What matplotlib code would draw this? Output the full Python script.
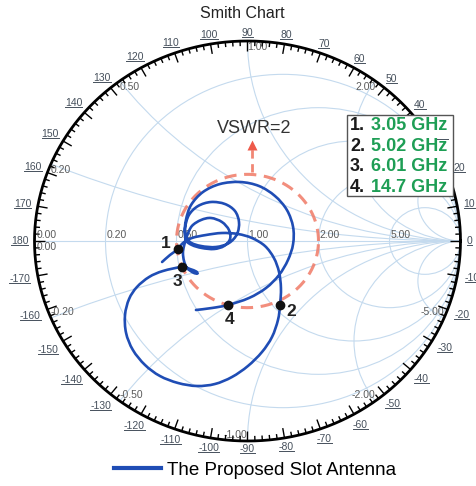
import numpy as np
import matplotlib
matplotlib.use("Agg")
import matplotlib.pyplot as plt
from matplotlib.patches import Circle, Rectangle, PathPatch
from matplotlib.path import Path
from matplotlib.collections import LineCollection
from matplotlib.lines import Line2D

plt.rcParams['font.family'] = ['Liberation Sans', 'DejaVu Sans']

# reflection coefficient of the antenna, in frequency order
gamma_re = [-0.401, -0.364, -0.326, -0.303, -0.261, -0.195, -0.120, -0.045, 0.021, 0.082,
            0.124, 0.148, 0.157, 0.153, 0.143, 0.115, 0.068, 0.002, -0.073, -0.153,
            -0.237, -0.326, -0.411, -0.481, -0.538, -0.570, -0.575, -0.556, -0.519, -0.462,
            -0.397, -0.308, -0.270, -0.240, -0.236, -0.255, -0.284, -0.298, -0.303, -0.298,
            -0.284, -0.261, -0.218, -0.171, -0.120, -0.087, -0.082, -0.110, -0.157, -0.214,
            -0.261, -0.289, -0.293, -0.275, -0.232, -0.171, -0.106, -0.059, -0.040, -0.049,
            -0.087, -0.148, -0.218, -0.270, -0.293, -0.289, -0.265, -0.209, -0.129, -0.035,
            0.054, 0.129, 0.185, 0.214, 0.214, 0.190, 0.148, 0.087, 0.007, -0.092,
            -0.167, -0.242]
gamma_im = [-0.105, -0.070, -0.040, -0.010, 0.015, 0.030, 0.040, 0.035, 0.015, -0.025,
            -0.085, -0.155, -0.235, -0.320, -0.395, -0.480, -0.555, -0.625, -0.680, -0.715,
            -0.725, -0.710, -0.675, -0.620, -0.545, -0.460, -0.370, -0.290, -0.230, -0.180,
            -0.150, -0.130, -0.140, -0.153, -0.163, -0.158, -0.135, -0.100, -0.060, -0.025,
            0.025, 0.075, 0.105, 0.115, 0.095, 0.055, 0.010, -0.025, -0.040, -0.035,
            -0.020, 0.005, 0.065, 0.130, 0.175, 0.195, 0.185, 0.150, 0.095, 0.035,
            -0.010, -0.030, -0.025, -0.005, 0.040, 0.105, 0.180, 0.245, 0.285, 0.295,
            0.275, 0.225, 0.155, 0.070, -0.015, -0.095, -0.170, -0.235, -0.285, -0.320,
            -0.335, -0.345]

marker_names = ['1', '2', '3', '4']
marker_freqs = ['3.05 GHz', '5.02 GHz', '6.01 GHz', '14.7 GHz']
marker_re = [-0.326, 0.153, -0.308, -0.092]
marker_im = [-0.040, -0.320, -0.130, -0.320]

grid_r = [0.2, 0.5, 1.0, 2.0, 5.0]
grid_x = [0.2, 0.5, 1.0, 2.0, 5.0]
vswr = 2

# pixel geometry of the chart (picture is slightly wider than tall)
W, H = 477, 486
CX, CY, RX, RY = 247.5, 241.0, 213.0, 200.0


def px(x, y):
    return (x - CX) / RX, (CY - y) / RY


def smooth_path(xs, ys):
    # Catmull-Rom through the points, drawn as cubic Bezier segments
    p = np.column_stack([xs, ys])
    ext = np.vstack([p[0], p, p[-1]])
    verts = [p[0]]
    codes = [Path.MOVETO]
    for i in range(1, len(ext) - 2):
        c1 = ext[i] + (ext[i + 1] - ext[i - 1]) / 6
        c2 = ext[i + 1] - (ext[i + 2] - ext[i]) / 6
        verts += [c1, c2, ext[i + 1]]
        codes += [Path.CURVE4] * 3
    return Path(verts, codes)


fig = plt.figure(figsize=(W / 100, H / 100), dpi=100)
ax = fig.add_axes([0, 0, 1, 1])
ax.set_xlim(-CX / RX, (W - CX) / RX)
ax.set_ylim((CY - H) / RY, CY / RY)
ax.set_aspect('auto')
ax.axis('off')

gridc = '#c4daee'
outer = Circle((0, 0), 1, transform=ax.transData, facecolor='none', edgecolor='none')
ax.add_patch(outer)
for r in grid_r:
    c = Circle((r / (1 + r), 0), 1 / (1 + r), fill=False, ec=gridc, lw=0.8, zorder=1)
    ax.add_patch(c)
    c.set_clip_path(outer)
for x in grid_x:
    for s in (1, -1):
        c = Circle((1, s / x), 1 / x, fill=False, ec=gridc, lw=0.8, zorder=1)
        ax.add_patch(c)
        c.set_clip_path(outer)
ax.plot([-1, 1], [0, 0], color=gridc, lw=0.8, zorder=1)

# outer circle and angle ticks
t = np.linspace(0, 2 * np.pi, 721)
ax.plot(np.cos(t), np.sin(t), color='black', lw=2.0, zorder=3)
segs = []
for d in range(0, 360, 2):
    a = np.radians(d)
    L = 10 if d % 10 == 0 else 5
    segs.append([(np.cos(a), np.sin(a)),
                 (np.cos(a) - L / RX * np.cos(a), np.sin(a) - L / RY * np.sin(a))])
ax.add_collection(LineCollection(segs, colors='black', lw=1.0, zorder=3))

angle_texts = []
for d in range(-170, 181, 10):
    a = np.radians(d)
    lab = str(d)
    hw = 3.0 * len(lab)
    off = 6 + hw * abs(np.cos(a)) + 2 * abs(np.sin(a))
    xx = np.cos(a) * (1 + off / RX)
    yy = np.sin(a) * (1 + off / RY)
    angle_texts.append(ax.text(xx, yy, lab, ha='center', va='center', fontsize=7.5,
                               color='#46505c', zorder=4))

labc = '#5a5a5a'
# resistance labels on the real axis
ax.text(-1 + 2 / RX, 1 / RY, '0.00', ha='left', va='bottom', fontsize=7.5, color=labc, zorder=4)
ax.text(-1 + 2 / RX, -1 / RY, '0.00', ha='left', va='top', fontsize=7.5, color=labc, zorder=4)
for r in grid_r:
    ax.text((r - 1) / (r + 1) + 1 / RX, 1 / RY, '%.2f' % r, ha='left', va='bottom',
            fontsize=7.5, color=labc, zorder=2)
# reactance labels at the rim
for x in grid_x:
    for s in (1, -1):
        g = (1j * s * x - 1) / (1j * s * x + 1)
        if s > 0:
            ha = 'left' if g.real <= 0.01 else 'right'
            va = 'top'
            dy = -1 / RY
        else:
            ha = 'left' if g.real < -0.01 else 'right'
            va = 'bottom'
            dy = 1 / RY
        ax.text(g.real, g.imag + dy, ('%.2f' if s > 0 else '-%.2f') % x, ha=ha, va=va,
                fontsize=7.5, color=labc, zorder=2)

# VSWR circle
rv = (vswr - 1) / (vswr + 1)
ax.plot(rv * np.cos(t), rv * np.sin(t), color='#f07a66', lw=2.2, ls=(0, (4, 2.5)),
        alpha=0.85, zorder=2)
x0, y0 = px(252, 172)
x1, y1 = px(252, 148)
ax.plot([x0, x1], [y0, y1], color='#f07a66', lw=2.0, ls=(0, (3, 2)), alpha=0.9, zorder=2)
ax.plot([x1], [y1 + 3 / RY], marker='^', ms=7, color='#ee5a4a', mec='none', zorder=2)
vx, vy = px(254, 128)
ax.text(vx, vy, 'VSWR=2', ha='center', va='center', fontsize=13, color='#333333', zorder=4)

# antenna curve
curve_color = '#1f4db5'
ax.add_patch(PathPatch(smooth_path(gamma_re, gamma_im), facecolor='none',
                       edgecolor=curve_color, lw=1.9, zorder=5, capstyle='round'))
line = Line2D([], [], color=curve_color, lw=3, label='The Proposed Slot Antenna')
ax.plot(marker_re, marker_im, 'o', color='#111111', ms=6, zorder=6)
lab_off = [(-12, 6), (11, -7), (-4, -15), (2, -15)]
for n, mx, my, (ox, oy) in zip(marker_names, marker_re, marker_im, lab_off):
    ax.text(mx + ox / RX, my + oy / RY, n, ha='center', va='center', fontsize=12.5,
            fontweight='bold', color='#222222', zorder=6)

# marker frequency box
bx0, by0 = px(347, 196)
bx1, by1 = px(453, 115)
ax.add_patch(Rectangle((bx0, by0), bx1 - bx0, by1 - by0, facecolor='white',
                       edgecolor='#555555', lw=1.0, zorder=7))
for i, (n, f) in enumerate(zip(marker_names, marker_freqs)):
    tx, ty = px(350, 125.5 + i * 20.6)
    ax.text(tx, ty, n + '.', ha='left', va='center', fontsize=13, fontweight='bold',
            color='#1a1a1a', zorder=8)
    tx2, _ = px(371, 0)
    ax.text(tx2, ty, f, ha='left', va='center', fontsize=13, fontweight='bold',
            color='#1e9e55', zorder=8)

fig.text(242 / W, 1 - 14 / H, 'Smith Chart', ha='center', va='center', fontsize=11.5,
         color='#222222')

leg = fig.legend(handles=[line], loc='center', bbox_to_anchor=(255 / W, 1 - 470 / H),
                 frameon=False, fontsize=13.5, handlelength=2.5, handletextpad=0.3,
                 borderpad=0)

# underline the angle labels
fig.canvas.draw()
for txt in angle_texts:
    bb = txt.get_window_extent()
    yline = (bb.y0 + 1) / H
    fig.add_artist(Line2D([bb.x0 / W, bb.x1 / W], [yline, yline], color='#46505c', lw=0.7))

fig.savefig('out.png', dpi=100)
